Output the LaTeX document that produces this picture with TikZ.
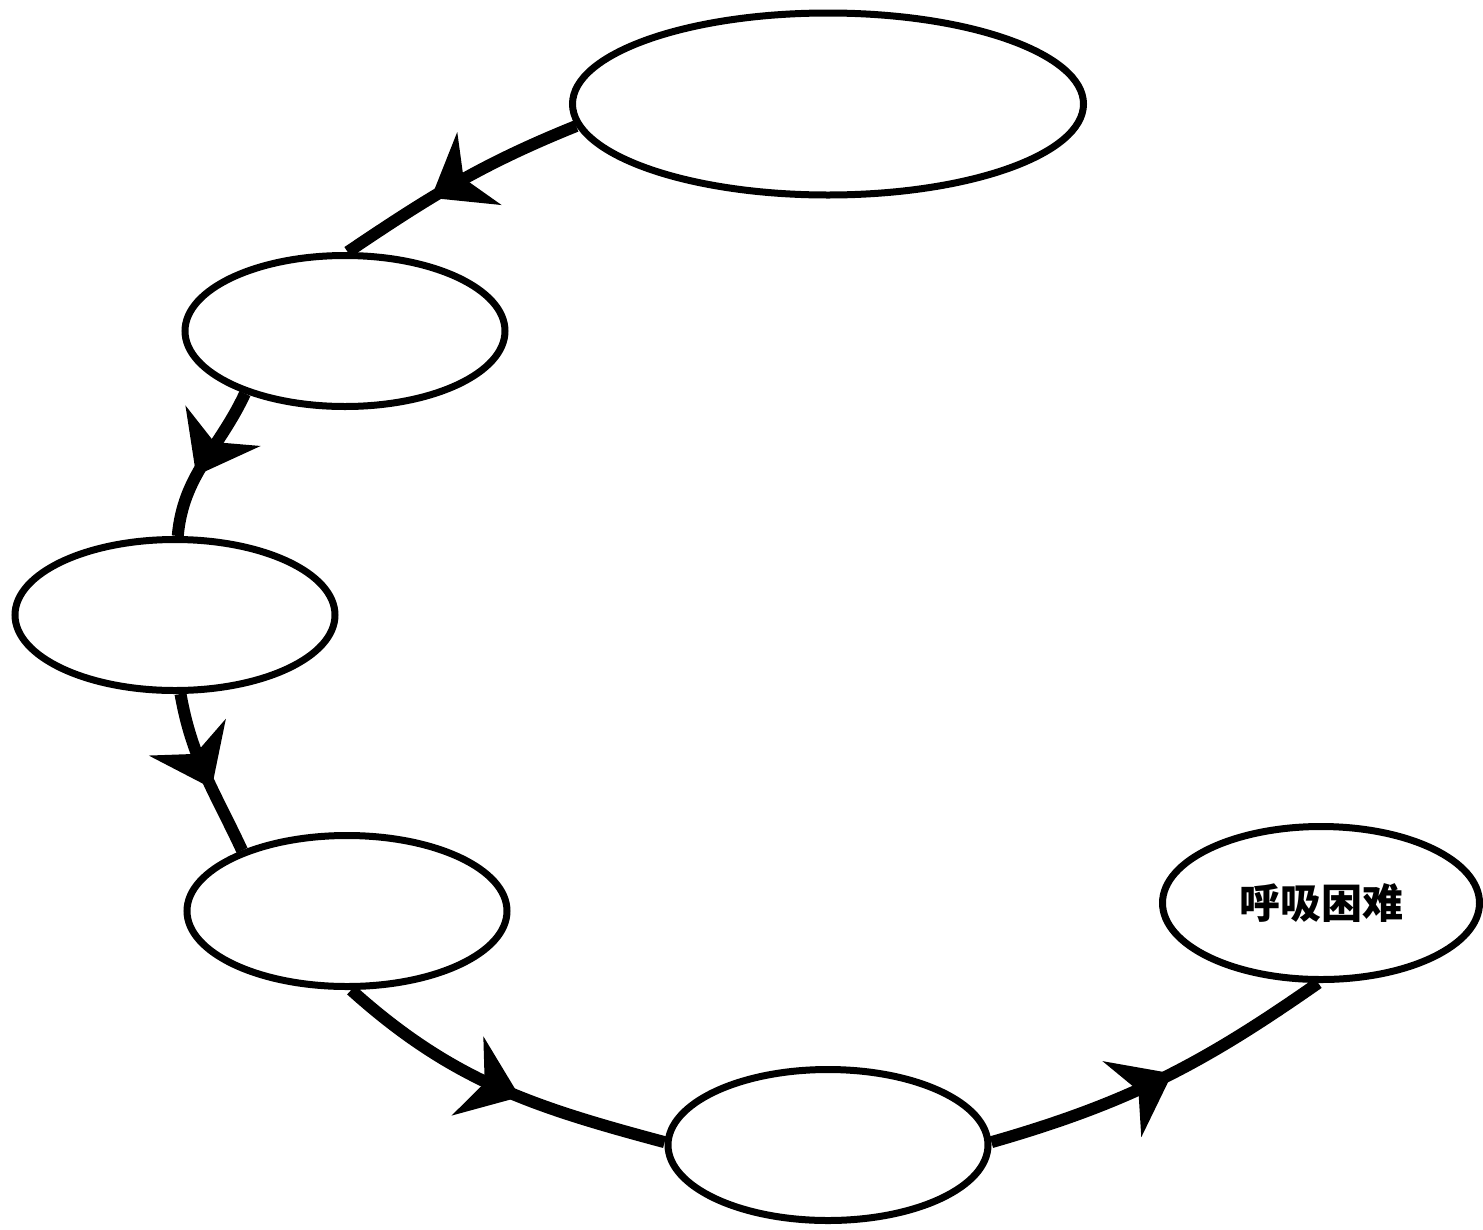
\documentclass[tikz,border=0pt]{standalone}
\usepackage{fontspec}
\newfontfamily\cjk{Noto Sans CJK SC}
\usetikzlibrary{shapes.geometric,arrows.meta,decorations.markings}
\begin{document}
\begin{tikzpicture}[x=1pt,y=-1pt,
  stage/.style={ellipse,draw=black,line width=7pt,fill=white,inner sep=0pt,
    minimum width=320pt,minimum height=151pt},
  flow/.style={line width=12pt,draw=black,
    postaction={decorate,decoration={markings,
      mark=at position #1 with {\arrow{Stealth[length=56pt,width=84pt,inset=18pt]}}}}}]
\useasboundingbox (0,0) rectangle (1483,1229);
\node[stage,minimum width=511pt,minimum height=182pt] (s1) at (828,104) {};
\node[stage] (s2) at (345,331) {};
\node[stage] (s3) at (175,615) {};
\node[stage] (s4) at (347,911) {};
\node[stage] (s5) at (828,1145) {};
\node[stage,minimum width=317pt,minimum height=153pt] (s6) at (1321,903)
  {\cjk\bfseries\fontsize{41pt}{45pt}\selectfont 呼吸困难};
% connectors between the stages, each with an arrowhead part way along
\draw[flow=0.62] (s1.185) to[out=202,in=34] (s2.88);
\draw[flow=0.6] (s2.212) to[out=245,in=85] (s3.88);
\draw[flow=0.59] (s3.274) to[out=280,in=115] (s4.150);
\draw[flow=0.57] (s4.273) to[out=318,in=165] (s5.179);
\draw[flow=0.53] (s5.1) to[out=16,in=215] (s6.268);
\end{tikzpicture}
\end{document}
